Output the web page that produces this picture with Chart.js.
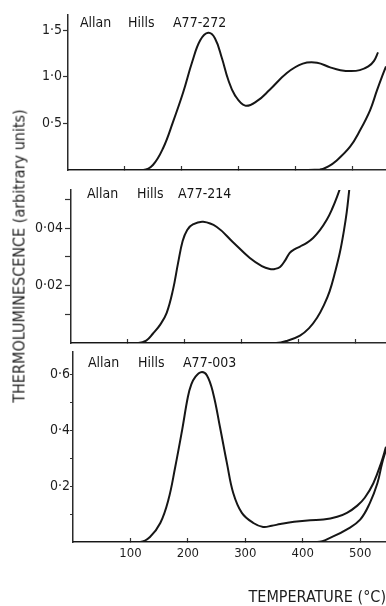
<!DOCTYPE html>
<html lang="en">
  <head>
    <meta charset="UTF-8" />
    <script src="https://cdn.jsdelivr.net/npm/chart.js@4.4.1/dist/chart.umd.min.js"></script>
    <title>Thermoluminescence glow curves</title>
    <style>
      body { margin: 0; background: #fff; }
      #wrap { position: relative; width: 386px; height: 606px; overflow: hidden; }
      canvas { position: absolute; left: 0; }
      #ytitle {
        position: absolute; left: 19px; top: 256px;
        transform: translate(-50%, -50%) rotate(-90deg);
        white-space: nowrap; color: #222;
        font: 16px "DejaVu Sans Condensed", "DejaVu Sans", sans-serif;
      }
    </style>
  </head>
  <body>
    <div id="wrap">
      <canvas id="c1" width="386" height="182" style="top:0"></canvas>
      <canvas id="c2" width="386" height="180" style="top:175px"></canvas>
      <canvas id="c3" width="386" height="266" style="top:340px"></canvas>
      <div id="ytitle">THERMOLUMINESCENCE (arbitrary units)</div>
    </div>
    <script>
      // temperature (deg C) and TL readings
      const xTicks = [100, 200, 300, 400, 500];

      // Allan Hills A77-272
      const temp272 = [0, 132, 149, 167, 184, 202, 218, 232, 246, 258, 270, 281, 293, 311, 332, 354, 384, 412, 437, 460, 478, 497, 512, 527, 537, 544];
      const tl272 = [0, 0, 0.054, 0.236, 0.51, 0.83, 1.16, 1.39, 1.47, 1.41, 1.20, 0.97, 0.80, 0.69, 0.74, 0.86, 1.04, 1.14, 1.15, 1.10, 1.07, 1.06, 1.07, 1.11, 1.17, 1.26];
      const temp272bg = [0, 420, 442, 457, 471, 495, 512, 530, 542, 551, 558];
      const tl272bg = [0, 0, 0.005, 0.04, 0.1, 0.25, 0.42, 0.64, 0.85, 1.0, 1.11];
      const yTicks272 = [0.5, 1.0, 1.5];
      const yLabels272 = [0.5, 1.0, 1.5];

      // Allan Hills A77-214
      const temp214 = [0, 118, 132, 144, 157, 168, 179, 188, 196, 204, 214, 232, 256, 284, 314, 335, 349, 358, 367, 376, 384, 393, 402, 414, 425, 437, 449, 458, 467, 476];
      const tl214 = [0, 0, 0.0008, 0.0033, 0.0065, 0.0105, 0.0185, 0.0279, 0.0355, 0.0394, 0.0413, 0.0422, 0.0404, 0.0352, 0.0296, 0.0268, 0.0258, 0.0258, 0.0265, 0.0288, 0.0314, 0.0327, 0.0336, 0.0349, 0.0366, 0.0393, 0.0429, 0.0465, 0.0509, 0.056];
      const temp214bg = [0, 360, 380, 402, 418, 432, 444, 454, 464, 472, 479, 484, 488, 492];
      const tl214bg = [0, 0, 0.0008, 0.0026, 0.0052, 0.0088, 0.0132, 0.018, 0.025, 0.0315, 0.039, 0.0455, 0.0525, 0.06];
      const yTicks214 = [0.01, 0.02, 0.03, 0.04, 0.05];
      const yLabels214 = [0.02, 0.04];

      // Allan Hills A77-003
      const temp003 = [0, 117, 134, 152, 166, 178, 190, 200, 206, 213, 223, 233, 244, 256, 268, 279, 294, 314, 331, 346, 361, 385, 413, 436, 460, 477, 495, 508, 523, 537, 545];
      const tl003 = [0, 0, 0.018, 0.068, 0.15, 0.268, 0.40, 0.518, 0.563, 0.59, 0.607, 0.596, 0.532, 0.41, 0.282, 0.175, 0.104, 0.068, 0.054, 0.058, 0.064, 0.072, 0.078, 0.080, 0.09, 0.104, 0.13, 0.158, 0.21, 0.286, 0.34];
      const temp003bg = [0, 425, 453, 477, 500, 517, 530, 538, 545];
      const tl003bg = [0, 0, 0.02, 0.045, 0.08, 0.14, 0.21, 0.28, 0.33];
      const yTicks003 = [0.1, 0.2, 0.3, 0.4, 0.5, 0.6];
      const yLabels003 = [0.2, 0.4, 0.6];

      const fontFamily = '"DejaVu Sans Condensed", "DejaVu Sans", sans-serif';
      const ink = '#161616';
      Chart.defaults.font.family = fontFamily;
      Chart.defaults.color = '#1e1e1e';

      // sample name written inside the plot, top left
      const sampleLabel = {
        id: 'sampleLabel',
        afterDraw(chart, args, opts) {
          const { ctx, chartArea } = chart;
          ctx.save();
          ctx.font = '14px ' + fontFamily;
          ctx.fillStyle = ink;
          ctx.textBaseline = 'middle';
          opts.words.forEach((w, i) => {
            ctx.fillText(w, chartArea.left + opts.dx[i], chartArea.top + opts.dy);
          });
          ctx.restore();
        }
      };

      function toPoints(ts, vs) {
        return ts.map((t, i) => ({ x: t, y: vs[i] }));
      }

      function makePanel(id, p) {
        return new Chart(document.getElementById(id), {
          type: 'line',
          data: {
            datasets: [
              { data: toPoints(p.t1, p.v1), borderColor: ink },
              { data: toPoints(p.t2, p.v2), borderColor: ink }
            ]
          },
          options: {
            responsive: false,
            animation: false,
            layout: { padding: { top: p.top, left: 0, right: 0, bottom: 0 } },
            elements: {
              point: { radius: 0 },
              line: { borderWidth: 2, tension: 0.4, capBezierPoints: true }
            },
            plugins: {
              legend: { display: false },
              tooltip: { enabled: false },
              sampleLabel: { words: ['Allan', 'Hills', p.name], dx: p.dx, dy: p.dy }
            },
            scales: {
              x: {
                type: 'linear',
                min: 0,
                max: p.xMax,
                afterBuildTicks: (s) => { s.ticks = xTicks.map((v) => ({ value: v })); },
                afterFit: (s) => { s.height = p.xH; },
                grid: { drawOnChartArea: false, tickLength: -4, tickColor: '#333', tickWidth: 1.2 },
                border: { color: '#2a2a2a', width: 1.5 },
                ticks: { display: p.xLabels, font: { size: 13 }, padding: 8 },
                title: {
                  display: p.xLabels,
                  text: 'TEMPERATURE (°C)',
                  align: 'end',
                  font: { size: 16, lineHeight: 1.05 },
                  padding: { top: 0, bottom: 0 }
                }
              },
              y: {
                min: 0,
                max: p.yMax,
                afterBuildTicks: (s) => { s.ticks = p.yTicks.map((v) => ({ value: v })); },
                afterFit: (s) => { s.width = p.left; },
                grid: { drawOnChartArea: false, tickLength: p.tick, tickColor: '#333', tickWidth: 1.2 },
                border: { color: '#2a2a2a', width: 1.5 },
                ticks: {
                  font: { size: 14 },
                  padding: p.pad,
                  callback: (v) => p.yLabels.some((l) => Math.abs(l - v) < 1e-9) ? v.toFixed(p.dec).replace('.', '·') : ''
                }
              }
            }
          },
          plugins: [sampleLabel]
        });
      }

      makePanel('c1', {
        t1: temp272, v1: tl272, t2: temp272bg, v2: tl272bg,
        name: 'A77-272', dx: [12, 60, 105], dy: 8,
        yTicks: yTicks272, yLabels: yLabels272, dec: 1, yMax: 1.661,
        xMax: 558, left: 68, top: 15, xH: 12, xLabels: false, tick: 5, pad: 1
      });

      makePanel('c2', {
        t1: temp214, v1: tl214, t2: temp214bg, v2: tl214bg,
        name: 'A77-214', dx: [16, 66, 107], dy: 4,
        yTicks: yTicks214, yLabels: yLabels214, dec: 2, yMax: 0.0533,
        xMax: 553, left: 71, top: 15, xH: 12, xLabels: false, tick: 6, pad: 2
      });

      makePanel('c3', {
        t1: temp003, v1: tl003, t2: temp003bg, v2: tl003bg,
        name: 'A77-003', dx: [15, 65, 110], dy: 11,
        yTicks: yTicks003, yLabels: yLabels003, dec: 1, yMax: 0.679,
        xMax: 545, left: 73, top: 12, xH: 64, xLabels: true, tick: 3, pad: 0
      });
    </script>
  </body>
</html>
